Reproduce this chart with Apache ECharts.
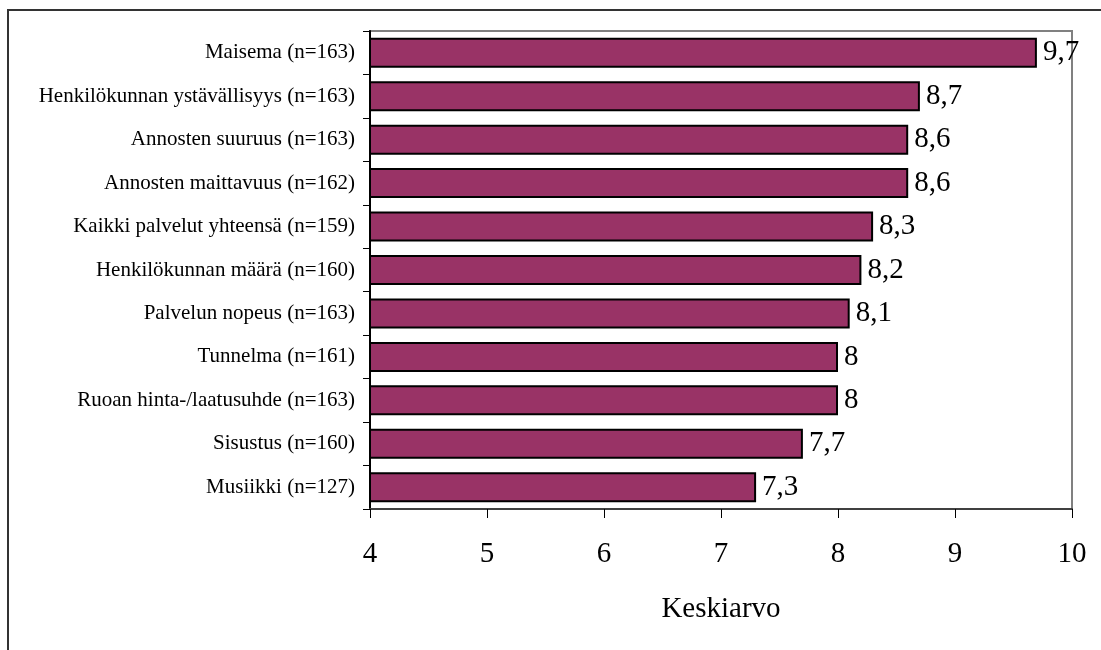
<!DOCTYPE html>
<html>
<head>
<meta charset="utf-8">
<script src="https://cdn.jsdelivr.net/npm/echarts@6/dist/echarts.min.js"></script>
<style>html,body{margin:0;padding:0;background:#fff;}#c{width:1101px;height:650px;}</style>
</head>
<body>
<div id="c"></div>
<script>
const categories = [
  "Maisema (n=163)",
  "Henkilökunnan ystävällisyys (n=163)",
  "Annosten suuruus (n=163)",
  "Annosten maittavuus (n=162)",
  "Kaikki palvelut yhteensä (n=159)",
  "Henkilökunnan määrä (n=160)",
  "Palvelun nopeus (n=163)",
  "Tunnelma (n=161)",
  "Ruoan hinta-/laatusuhde (n=163)",
  "Sisustus (n=160)",
  "Musiikki (n=127)"
];
const values = [9.7, 8.7, 8.6, 8.6, 8.3, 8.2, 8.1, 8, 8, 7.7, 7.3];
const xTicks = [4, 5, 6, 7, 8, 9, 10];
const axisName = "Keskiarvo";

const font = "'Liberation Serif', 'Times New Roman', serif";
const chart = echarts.init(document.getElementById('c'));
chart.setOption({
  animation: false,
  graphic: [{
    type: 'rect', z: -10,
    shape: {x: 8, y: 10, width: 1200, height: 800},
    style: {fill: 'none', stroke: '#333', lineWidth: 2}
  }],
  grid: {left: 370, right: 29, top: 31, bottom: 141, show: true, borderColor: '#808080', borderWidth: 2, backgroundColor: 'transparent'},
  xAxis: {
    type: 'value', min: xTicks[0], max: xTicks[xTicks.length-1], interval: 1,
    name: axisName, nameLocation: 'middle', nameGap: 86,
    nameTextStyle: {fontFamily: font, fontSize: 29, color: '#000'},
    axisLine: {show: true, lineStyle: {color: '#404040', width: 2}},
    axisTick: {show: true, inside: false, length: 9, lineStyle: {color: '#000', width: 1}},
    axisLabel: {fontFamily: font, fontSize: 29, color: '#000', margin: 31},
    splitLine: {show: false}
  },
  yAxis: {
    type: 'category', data: categories, inverse: true,
    axisLine: {show: true, lineStyle: {color: '#000', width: 2}},
    axisTick: {show: true, inside: false, length: 7, alignWithLabel: false, lineStyle: {color: '#000', width: 1}},
    axisLabel: {fontFamily: font, fontSize: 21, color: '#000', margin: 15}
  },
  series: [{
    type: 'bar', data: values, barCategoryGap: '31%',
    itemStyle: {color: '#993366', borderColor: '#000', borderWidth: 2},
    label: {show: true, position: 'right', distance: 6, fontFamily: font, fontSize: 29, color: '#000',
      formatter: p => String(p.value).replace('.', ',')}
  }]
});
</script>
</body>
</html>
